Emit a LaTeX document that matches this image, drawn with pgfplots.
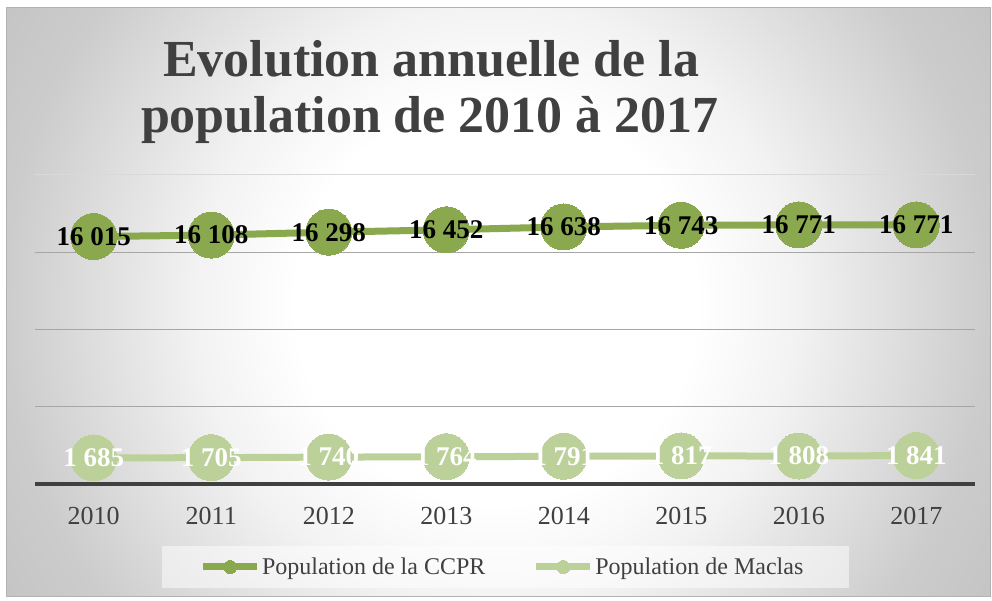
\documentclass[border=0pt]{standalone}
\usepackage{pgfplots}
\pgfplotsset{compat=1.18}
\usepackage{fontspec}
\setmainfont{Liberation Serif}
\definecolor{dkgreen}{HTML}{8AA84E}
\definecolor{ltgreen}{HTML}{BCD19A}
\definecolor{txtgrey}{HTML}{404040}
\definecolor{gridgrey}{HTML}{A6A6A6}
\pgfdeclareradialshading{bgshade}{\pgfpoint{0bp}{0bp}}{color(0bp)=(white); color(200bp)=(white); color(300bp)=(black!5); color(490bp)=(black!20); color(600bp)=(black!24)}
\begin{document}
\begin{tikzpicture}[x=1pt,y=1pt]
\useasboundingbox (0,0) rectangle (992,601);
\fill[white] (0,0) rectangle (992,601);
\begin{scope}
\clip (6,4) rectangle (990,593);
\node[inner sep=0pt, outer sep=0pt] at (496,298) {\pgfuseshading{bgshade}};
\end{scope}
\draw[black!30, line width=1pt] (6,4) rectangle (990,593);
% title
\node[anchor=base, font=\bfseries\fontsize{52}{60}\selectfont, text=txtgrey, inner sep=0pt] at (431,524) {Evolution annuelle de la};
\node[anchor=base, font=\bfseries\fontsize{52}{60}\selectfont, text=txtgrey, inner sep=0pt] at (430,468) {population de 2010 à 2017};
% legend box
\fill[white, opacity=0.5] (162,13) rectangle (849,55);
\begin{axis}[
  at={(35pt,117pt)}, anchor=south west, scale only axis,
  width=940pt, height=309pt,
  xmin=-0.5, xmax=7.5, ymin=0, ymax=20000,
  scaled y ticks=false,
  axis x line*=bottom, axis y line*=left,
  y axis line style={draw=none},
  x axis line style={draw=txtgrey, line width=3.5pt, -},
  xtick={0,...,7},
  xticklabels={2010,2011,2012,2013,2014,2015,2016,2017},
  ytick={5000,10000,15000},
  yticklabels={},
  extra y ticks={20000},
  extra y tick labels={},
  extra y tick style={grid style={black!15, line width=1pt}},
  major tick length=0pt,
  ymajorgrids, grid style={gridgrey, line width=1pt},
  xticklabel style={font=\fontsize{26}{30}\selectfont, text=txtgrey, yshift=-20pt},
  clip=false,
  legend style={at={(0.497,-0.2686)}, anchor=center, draw=none, fill=none,
    legend columns=2, font=\fontsize{24}{28}\selectfont, text=txtgrey,
    nodes={inner sep=1.5pt},
    /tikz/every even column/.append style={column sep=46pt}},
  legend image code/.code={\draw[mark repeat=2,mark phase=2,#1] plot coordinates {(0pt,0pt) (27pt,0pt) (54pt,0pt)};},
]
\addplot[dkgreen, line width=7pt, mark=*, mark size=23pt, mark options={fill=dkgreen, draw=dkgreen, line width=0pt},
  point meta=explicit symbolic, nodes near coords,
  every node near coord/.style={anchor=center, text=black, font=\bfseries\fontsize{27}{30}\selectfont}, forget plot]
coordinates {
(0,16015) [16~015]
(1,16108) [16~108]
(2,16298) [16~298]
(3,16452) [16~452]
(4,16638) [16~638]
(5,16743) [16~743]
(6,16771) [16~771]
(7,16771) [16~771]
};
\addplot[ltgreen, line width=7pt, mark=*, mark size=23pt, mark options={fill=ltgreen, draw=ltgreen, line width=0pt},
  point meta=explicit symbolic, nodes near coords,
  every node near coord/.style={anchor=center, text=white, font=\bfseries\fontsize{27}{30}\selectfont}, forget plot]
coordinates {
(0,1685) [1~685]
(1,1705) [1~705]
(2,1740) [1~740]
(3,1764) [1~764]
(4,1791) [1~791]
(5,1817) [1~817]
(6,1808) [1~808]
(7,1841) [1~841]
};
\addlegendimage{dkgreen, line width=7pt, mark=*, mark size=6.5pt, mark options={fill=dkgreen, draw=dkgreen, line width=0pt}}
\addlegendentry{Population de la CCPR}
\addlegendimage{ltgreen, line width=7pt, mark=*, mark size=6.5pt, mark options={fill=ltgreen, draw=ltgreen, line width=0pt}}
\addlegendentry{Population de Maclas}
\end{axis}
\end{tikzpicture}
\end{document}
